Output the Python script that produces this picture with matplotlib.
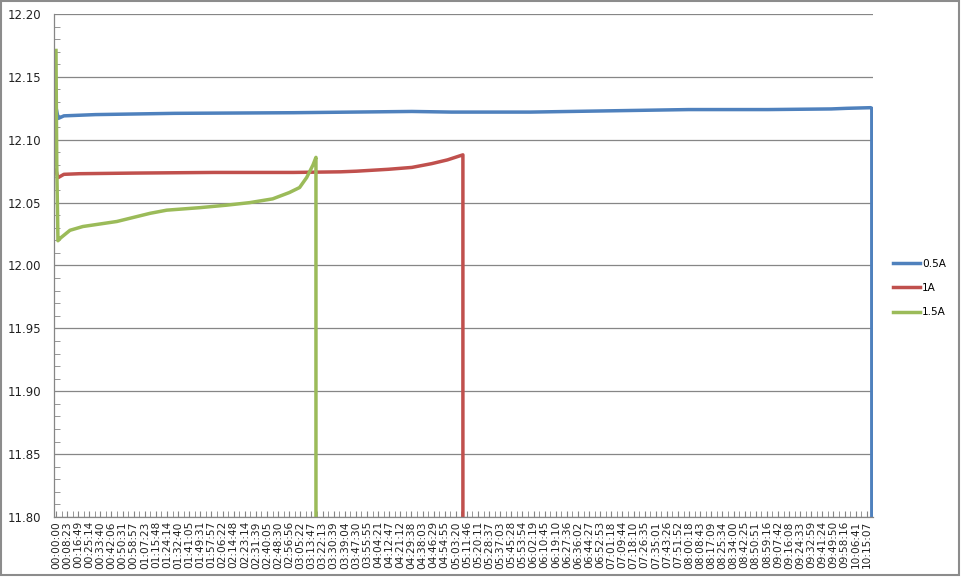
import numpy as np
import matplotlib
matplotlib.use('Agg')
import matplotlib.pyplot as plt
from matplotlib.ticker import MultipleLocator

# Category labels shown on the x axis (elapsed time)
tick_labels = [
    '00:00:00', '00:08:23', '00:16:49', '00:25:14', '00:33:40', '00:42:06', '00:50:31', '00:58:57',
    '01:07:23', '01:15:48', '01:24:14', '01:32:40', '01:41:05', '01:49:31', '01:57:57', '02:06:22',
    '02:14:48', '02:23:14', '02:31:39', '02:40:05', '02:48:30', '02:56:56', '03:05:22', '03:13:47',
    '03:22:13', '03:30:39', '03:39:04', '03:47:30', '03:55:55', '04:04:21', '04:12:47', '04:21:12',
    '04:29:38', '04:38:03', '04:46:29', '04:54:55', '05:03:20', '05:11:46', '05:20:11', '05:28:37',
    '05:37:03', '05:45:28', '05:53:54', '06:02:19', '06:10:45', '06:19:10', '06:27:36', '06:36:02',
    '06:44:27', '06:52:53', '07:01:18', '07:09:44', '07:18:10', '07:26:35', '07:35:01', '07:43:26',
    '07:51:52', '08:00:18', '08:08:43', '08:17:09', '08:25:34', '08:34:00', '08:42:25', '08:50:51',
    '08:59:16', '09:07:42', '09:16:08', '09:24:33', '09:32:59', '09:41:24', '09:49:50', '09:58:16',
    '10:06:41', '10:15:07',
]

# Voltage readings (hours, volts); the last point is the drop to zero at cut-off
t_05a = [0, 0.015, 0.03, 0.1, 0.5, 1.5, 3.0, 4.5, 5.0, 6.0, 7.0, 8.0, 9.0, 9.8, 10.0, 10.3, 10.315, 10.315]
v_05a = [12.126, 12.121, 12.117, 12.119, 12.120, 12.121, 12.1215, 12.1225, 12.122, 12.122, 12.123,
         12.124, 12.124, 12.1245, 12.125, 12.1255, 12.125, 0.0]

t_1a = [0, 0.015, 0.03, 0.1, 0.3, 1.0, 2.0, 3.0, 3.6, 3.8, 4.2, 4.5, 4.75, 4.95, 5.145, 5.145]
v_1a = [12.076, 12.072, 12.070, 12.0725, 12.073, 12.0735, 12.074, 12.074, 12.0745, 12.075, 12.0765,
        12.078, 12.081, 12.084, 12.088, 0.0]

t_15a = [0, 0.01, 0.025, 0.06, 0.177, 0.34, 0.77, 1.19, 1.40, 1.82, 2.16, 2.45, 2.74, 2.95, 3.08,
         3.17, 3.25, 3.287, 3.287]
v_15a = [12.171, 12.08, 12.0197, 12.022, 12.028, 12.031, 12.035, 12.0415, 12.044, 12.046, 12.048,
         12.050, 12.053, 12.058, 12.062, 12.070, 12.080, 12.086, 0.0]


def to_hours(s):
    h, m, sec = s.split(':')
    return int(h) + int(m) / 60 + int(sec) / 3600


tick_pos = [to_hours(s) for s in tick_labels]

plt.rcParams['font.family'] = 'DejaVu Sans'
fig = plt.figure(figsize=(9.61, 5.77), dpi=100)
ax = fig.add_axes([54 / 961, 60 / 577, 819 / 961, 503 / 577])

ax.plot(t_05a, v_05a, color='#4F81BD', lw=2.5, label='0.5A', solid_joinstyle='round')
ax.plot(t_1a, v_1a, color='#C0504D', lw=2.5, label='1A', solid_joinstyle='round')
ax.plot(t_15a, v_15a, color='#9BBB59', lw=2.5, label='1.5A', solid_joinstyle='round')

ax.set_ylim(11.80, 12.20)
ax.set_xlim(-0.025, 10.33)
ax.yaxis.set_major_locator(MultipleLocator(0.05))
ax.yaxis.set_minor_locator(MultipleLocator(0.01))
ax.yaxis.set_major_formatter(plt.FormatStrFormatter('%.2f'))
ax.grid(axis='y', which='major', color='#868686', lw=0.9)
ax.set_axisbelow(True)

ax.set_xticks(tick_pos)
ax.set_xticklabels(tick_labels, rotation=90, fontsize=7.6, color='#222222')
ax.set_xticks([(a + b) / 2 for a, b in zip(tick_pos[:-1], tick_pos[1:])], minor=True)
ax.tick_params(axis='x', which='both', direction='in', length=4, color='#868686', pad=3)
ax.tick_params(axis='y', which='major', length=0, labelsize=8.5, pad=9, labelcolor='#222222')
ax.tick_params(axis='y', which='minor', direction='in', length=4, color='#868686')

for side in ['top', 'right']:
    ax.spines[side].set_visible(False)
for side in ['left', 'bottom']:
    ax.spines[side].set_color('#868686')
    ax.spines[side].set_linewidth(0.9)

leg = ax.legend(loc='center left', bbox_to_anchor=(1.018, 0.455), frameon=False, fontsize=7.6,
                handlelength=2.55, handletextpad=0.2, labelspacing=1.35, borderpad=0)

# outer chart border
fig.patches.append(plt.Rectangle((0.001, 0.004), 0.997, 0.995, transform=fig.transFigure,
                                 fill=False, edgecolor='#8c8c8c', lw=1.5))

fig.savefig('out.png', dpi=100)
